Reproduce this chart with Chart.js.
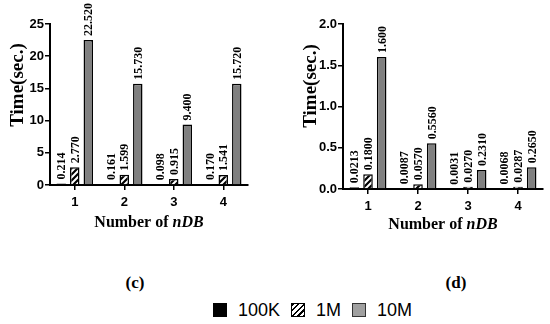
<!DOCTYPE html>
<html>
<head>
<meta charset="utf-8">
<script src="https://cdn.jsdelivr.net/npm/chart.js@4.4.1/dist/chart.umd.min.js"></script>
<style>
  body { margin: 0; width: 550px; height: 324px; background: #fff; position: relative; overflow: hidden; }
  canvas { position: absolute; top: 0; }
  .panel { position: absolute; top: 273px; width: 40px; text-align: center;
           font: bold 17px "Liberation Serif", serif; line-height: 20px; color: #000; }
  #legend { position: absolute; left: 213px; top: 300px; height: 20px; display: flex; align-items: center;
            font: 18px "Liberation Sans", Arial, sans-serif; color: #000; }
  #legend .sw { display: block; flex: none; width: 14px; height: 14px; box-sizing: border-box; }
  #legend .txt { margin: 0 11px; line-height: 20px; }
</style>
</head>
<body>
<canvas id="chartC" width="275" height="250" style="left:0"></canvas>
<canvas id="chartD" width="275" height="250" style="left:275px"></canvas>
<div class="panel" style="left:115px">(c)</div>
<div class="panel" style="left:436px">(d)</div>
<div id="legend"></div>
<script>
(function(){
  var categories = ['1', '2', '3', '4'];
  var seriesNames = ['100K', '1M', '10M'];

  // panel (c)
  var c100K = [0.214, 0.161, 0.098, 0.170];
  var c1M = [2.770, 1.599, 0.915, 1.541];
  var c10M = [22.520, 15.730, 9.400, 15.720];
  var cText100K = ['0.214', '0.161', '0.098', '0.170'];
  var cText1M = ['2.770', '1.599', '0.915', '1.541'];
  var cText10M = ['22.520', '15.730', '9.400', '15.720'];
  var cTicks = [0, 5, 10, 15, 20, 25];

  // panel (d)
  var d100K = [0.0213, 0.0087, 0.0031, 0.0068];
  var d1M = [0.1800, 0.0570, 0.0270, 0.0287];
  var d10M = [1.600, 0.5560, 0.2310, 0.2650];
  var dText100K = ['0.0213', '0.0087', '0.0031', '0.0068'];
  var dText1M = ['0.1800', '0.0570', '0.0270', '0.0287'];
  var dText10M = ['1.600', '0.5560', '0.2310', '0.2650'];
  var dTicks = [0, 0.5, 1.0, 1.5, 2.0];

  var gray = 'rgb(128,128,128)';

  function hatch (ctx){
    var p = document.createElement('canvas');
    p.width = 6; p.height = 6;
    var g = p.getContext('2d');
    g.fillStyle = '#fff';
    g.fillRect(0, 0, 6, 6);
    g.strokeStyle = '#000';
    g.lineWidth = 2.2;
    g.beginPath();
    g.moveTo(0, 6); g.lineTo(6, 0);
    g.moveTo(-1, 1); g.lineTo(1, -1);
    g.moveTo(5, 7); g.lineTo(7, 5);
    g.stroke();
    return ctx.createPattern(p, 'repeat');
  }

  var textPlugin = {
    id: 'texts',
    afterDatasetsDraw: function(chart, args, opts){
      var ctx = chart.ctx;
      ctx.save();
      ctx.fillStyle = '#000';
      ctx.font = 'bold 12px "Liberation Serif"';
      ctx.textAlign = 'left';
      ctx.textBaseline = 'middle';
      chart.data.datasets.forEach(function(ds, i){
        chart.getDatasetMeta(i).data.forEach(function(bar, j){
          ctx.save();
          ctx.translate(bar.x + 1, bar.y - 4);
          ctx.rotate(-Math.PI / 2);
          ctx.fillText(opts.texts[i][j], 0, 0);
          ctx.restore();
        });
      });

      // y title
      ctx.save();
      ctx.font = 'bold 19px "Liberation Serif"';
      ctx.textAlign = 'center';
      ctx.translate(opts.yTitle[0], opts.yTitle[1]);
      ctx.rotate(-Math.PI / 2);
      ctx.fillText('Time(sec.)', 0, 0);
      ctx.restore();

      // x title, nDB in italics
      var a = 'Number of ', b = 'nDB';
      ctx.font = 'bold 16px "Liberation Serif"';
      var wa = ctx.measureText(a).width;
      ctx.font = 'italic bold 16px "Liberation Serif"';
      var wb = ctx.measureText(b).width;
      var x0 = opts.xTitle[0] - (wa + wb) / 2;
      ctx.textAlign = 'left';
      ctx.font = 'bold 16px "Liberation Serif"';
      ctx.fillText(a, x0, opts.xTitle[1]);
      ctx.font = 'italic bold 16px "Liberation Serif"';
      ctx.fillText(b, x0 + wa, opts.xTitle[1]);
      ctx.restore();
    }
  };

  function makeChart (id, values, texts, ticks, dec, geo){
    var ctx = document.getElementById(id).getContext('2d');
    var fills = ['#000', hatch(ctx), gray];
    var tickFont = { family: '"Liberation Sans"', weight: 'bold', size: 13 };
    return new Chart(ctx, {
      type: 'bar',
      data: {
        labels: categories,
        datasets: values.map(function(v, i){
          return {
            label: seriesNames[i],
            data: v,
            backgroundColor: fills[i],
            borderColor: '#000',
            borderWidth: 1.5,
            categoryPercentage: 0.82,
            barPercentage: 0.7
          };
        })
      },
      options: {
        responsive: false,
        animation: false,
        layout: { padding: { top: 24, right: geo.right, left: 0, bottom: 0 } },
        plugins: {
          legend: { display: false },
          tooltip: { enabled: false },
          texts: { texts: texts, yTitle: geo.yTitle, xTitle: geo.xTitle }
        },
        scales: {
          x: {
            offset: true,
            grid: { drawOnChartArea: false, offset: false, tickLength: 5, color: '#000', lineWidth: 1.5 },
            border: { color: '#000', width: 2 },
            ticks: { color: '#000', font: tickFont, padding: 5, maxRotation: 0 },
            afterFit: function(s){ s.height = geo.xh; }
          },
          y: {
            min: 0,
            max: ticks[ticks.length - 1],
            ticks: {
              stepSize: ticks[1] - ticks[0],
              color: '#000',
              font: tickFont,
              padding: 1,
              callback: function(v){ return v.toFixed(dec); }
            },
            grid: { drawOnChartArea: false, tickLength: 5, color: '#000', lineWidth: 1.5 },
            border: { color: '#000', width: 2 },
            afterFit: function(s){ s.width = geo.yw; }
          }
        }
      },
      plugins: [textPlugin]
    });
  }

  makeChart('chartC', [c100K, c1M, c10M], [cText100K, cText1M, cText10M], cTicks, 0,
    { right: 27, yw: 50, xh: 65, yTitle: [18, 85], xTitle: [149, 223] });
  makeChart('chartD', [d100K, d1M, d10M], [dText100K, dText1M, dText10M], dTicks, 1,
    { right: 7, yw: 68, xh: 61, yTitle: [36, 86], xTitle: [168, 225] });

  // legend
  var legend = document.getElementById('legend');
  var swatches = [
    'background:#000;border:1.5px solid #000',
    'background:repeating-linear-gradient(135deg,#000 0 1.6px,#fff 1.6px 4px);border:1.5px solid #000',
    'background:#a0a0a0;border:1.5px solid #333'
  ];
  seriesNames.forEach(function(name, i){
    var sw = document.createElement('span');
    sw.className = 'sw';
    sw.style.cssText = swatches[i];
    var t = document.createElement('span');
    t.className = 'txt';
    t.textContent = name;
    legend.appendChild(sw);
    legend.appendChild(t);
  });
})();
</script>
</body>
</html>
